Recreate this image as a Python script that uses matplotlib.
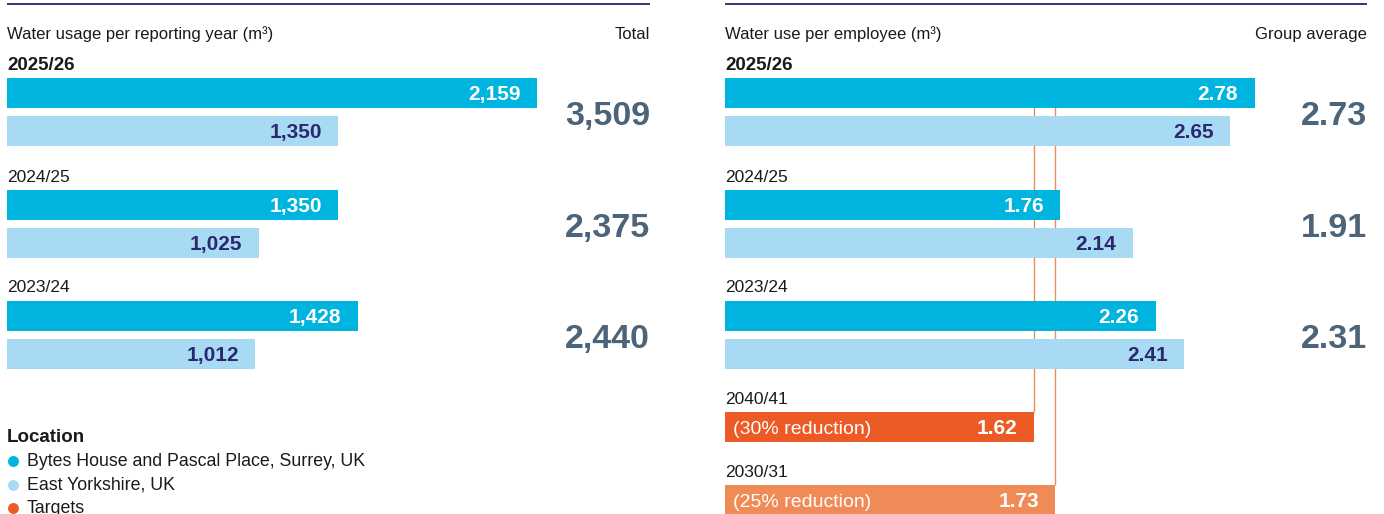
import matplotlib.pyplot as plt
from matplotlib.transforms import blended_transform_factory

plt.rcParams['font.family'] = ['Liberation Sans', 'DejaVu Sans']

# data
years = ['2025/26', '2024/25', '2023/24']
usage_surrey = [2159, 1350, 1428]
usage_yorks = [1350, 1025, 1012]
usage_total = ['3,509', '2,375', '2,440']

per_emp_surrey = [2.78, 1.76, 2.26]
per_emp_yorks = [2.65, 2.14, 2.41]
group_avg = ['2.73', '1.91', '2.31']

target_years = ['2040/41', '2030/31']
target_values = [1.62, 1.73]
target_notes = ['(30% reduction)', '(25% reduction)']

legend_labels = ['Bytes House and Pascal Place, Surrey, UK', 'East Yorkshire, UK', 'Targets']

C_DARK = '#00B4E0'
C_LIGHT = '#A8DBF3'
C_TGT = ['#EC5B26', '#F08A57']
C_NAVY = '#2B2870'
C_TOTAL = '#4C6479'
C_TXT = '#1a1a1a'

W, H = 1384, 514
fig = plt.figure(figsize=(W / 100, H / 100), dpi=100)


def make_ax(x0, x1, xmax):
    ax = fig.add_axes([x0 / W, 0, (x1 - x0) / W, 1])
    ax.set_xlim(0, xmax)
    ax.set_ylim(H, 0)
    ax.axis('off')
    ax.axhline(4, color='#2A2466', lw=1.3)
    return ax


axL = make_ax(7, 650, 643 / 0.2455)
axR = make_ax(725, 1367, 642 / 190.6)

row_top = [78, 190, 301]
bh = 30


def draw_rows(ax, dark, light, totals, fmt, title, right_title):
    tr = blended_transform_factory(ax.transAxes, ax.transData)
    ax.text(0, 39, title, fontsize=12, color=C_TXT, va='baseline', transform=tr)
    ax.text(1, 39, right_title, fontsize=12, color=C_TXT, va='baseline', ha='right', transform=tr)
    for i, yr in enumerate(years):
        t = row_top[i]
        ax.text(0, t - 8.5, yr, fontsize=13.5 if i == 0 else 12.5, color=C_TXT, va='baseline',
                fontweight='bold' if i == 0 else 'normal', transform=tr)
        ax.barh(t, dark[i], height=bh, left=0, align='edge', color=C_DARK, zorder=2)
        ax.barh(t + 38, light[i], height=bh, left=0, align='edge', color=C_LIGHT, zorder=2)
        ax.annotate(fmt(dark[i]), (dark[i], t + 22), xytext=(-12, 0), textcoords='offset points',
                    ha='right', va='baseline', fontsize=15, fontweight='bold', color='white', zorder=3)
        ax.annotate(fmt(light[i]), (light[i], t + 38 + 22), xytext=(-12, 0), textcoords='offset points',
                    ha='right', va='baseline', fontsize=15, fontweight='bold', color=C_NAVY, zorder=3)
        ax.text(1, t + 47, totals[i], fontsize=24.5, fontweight='bold', color=C_TOTAL,
                ha='right', va='baseline', transform=tr)


draw_rows(axL, usage_surrey, usage_yorks, usage_total, lambda v: f'{v:,}',
          'Water usage per reporting year (m³)', 'Total')
draw_rows(axR, per_emp_surrey, per_emp_yorks, group_avg, lambda v: f'{v:.2f}',
          'Water use per employee (m³)', 'Group average')

# targets
trR = blended_transform_factory(axR.transAxes, axR.transData)
tgt_top = [412, 485]
for i, yr in enumerate(target_years):
    t = tgt_top[i]
    axR.vlines(target_values[i], 80, t, color=C_TGT[1], lw=1, zorder=1)
    axR.text(0, t - 8, yr, fontsize=12.5, color=C_TXT, va='baseline', transform=trR)
    axR.barh(t, target_values[i], height=bh, left=0, align='edge', color=C_TGT[i], zorder=2)
    axR.annotate(target_notes[i], (0, t + 22), xytext=(6, 0), textcoords='offset points',
                 ha='left', va='baseline', fontsize=14, color='white', zorder=3)
    axR.annotate(f'{target_values[i]:.2f}', (target_values[i], t + 22), xytext=(-11.5, 0),
                 textcoords='offset points', ha='right', va='baseline', fontsize=15,
                 fontweight='bold', color='white', zorder=3)

# legend
trL = blended_transform_factory(axL.transAxes, axL.transData)
axL.text(0, 442, 'Location', fontsize=13.5, fontweight='bold', color=C_TXT, va='baseline', transform=trL)
leg_colors = [C_DARK, C_LIGHT, C_TGT[0]]
for i, lab in enumerate(legend_labels):
    y = 461 + 23.5 * i
    axL.scatter([0.0095], [y], s=62, color=leg_colors[i], transform=trL, clip_on=False, zorder=3,
                linewidths=0)
    axL.text(0.031, y + 5, lab, fontsize=12.8, color=C_TXT, va='baseline', transform=trL)

fig.savefig('out.png', dpi=100)
